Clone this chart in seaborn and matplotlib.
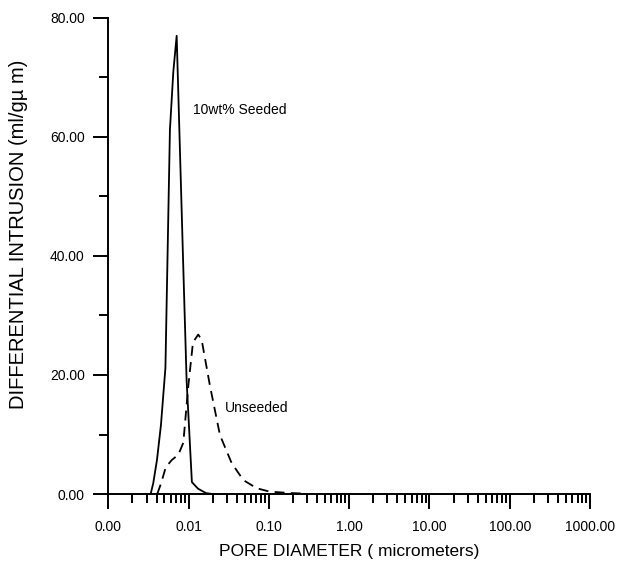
import numpy as np
import pandas as pd
import matplotlib
matplotlib.use("Agg")
import matplotlib.pyplot as plt
from matplotlib.ticker import LogLocator, FixedLocator, FixedFormatter, NullFormatter
import seaborn as sns

# Pore diameter (micrometers) and differential intrusion (ml/g·µm)
seeded_diam = [0.00337, 0.00363, 0.00404, 0.00453, 0.00515, 0.00586, 0.00646,
               0.00711, 0.0086, 0.00946, 0.0110, 0.0131, 0.0165, 0.0200]
seeded_intr = [0.0, 1.8, 5.7, 11.6, 21.2, 61.2, 71.0,
               77.0, 38.0, 19.0, 2.0, 0.9, 0.15, 0.0]

unseeded_diam = [0.00407, 0.00455, 0.0052, 0.00617, 0.00745, 0.0086, 0.0099,
                 0.01135, 0.0132, 0.01456, 0.01846, 0.0246, 0.0344, 0.048,
                 0.0705, 0.103, 0.183, 0.30]
unseeded_intr = [0.0, 1.8, 4.5, 5.7, 6.6, 8.6, 18.0,
                 25.5, 26.8, 25.9, 18.2, 9.9, 5.2, 2.35,
                 0.97, 0.39, 0.17, 0.05]

x_ticks = [0.001, 0.01, 0.1, 1, 10, 100, 1000]
x_tick_labels = ["0.00", "0.01", "0.10", "1.00", "10.00", "100.00", "1000.00"]
y_ticks = [0, 20, 40, 60, 80]
y_tick_labels = ["0.00", "20.00", "40.00", "60.00", "80.00"]
y_minor = [10, 30, 50, 70]

sns.set_style("ticks")
plt.rcParams["font.family"] = ["Liberation Sans", "DejaVu Sans"]
plt.rcParams["text.color"] = "black"
plt.rcParams["axes.labelcolor"] = "black"

fig = plt.figure(figsize=(6.18, 5.69), dpi=100)
ax = fig.add_axes([0.1752, 0.1318, 0.9547 - 0.1752, 0.9684 - 0.1318])

seeded = pd.DataFrame({"d": seeded_diam, "v": seeded_intr})
unseeded = pd.DataFrame({"d": unseeded_diam, "v": unseeded_intr})

sns.lineplot(data=seeded, x="d", y="v", ax=ax, color="black", linewidth=1.3,
             sort=False, estimator=None)
sns.lineplot(data=unseeded, x="d", y="v", ax=ax, color="black", linewidth=1.3,
             sort=False, estimator=None, linestyle=(0, (5.5, 3.5)))

ax.set_xscale("log")
ax.set_xlim(0.001, 1000)
ax.set_ylim(0, 80)

ax.xaxis.set_major_locator(FixedLocator(x_ticks))
ax.xaxis.set_major_formatter(FixedFormatter(x_tick_labels))
ax.xaxis.set_minor_locator(LogLocator(base=10, subs=np.arange(2, 10), numticks=20))
ax.xaxis.set_minor_formatter(NullFormatter())
ax.yaxis.set_major_locator(FixedLocator(y_ticks))
ax.yaxis.set_major_formatter(FixedFormatter(y_tick_labels))
ax.yaxis.set_minor_locator(FixedLocator(y_minor))

ax.tick_params(axis="both", which="major", length=11, width=1.4, labelsize=10,
               colors="black", direction="out")
ax.tick_params(axis="x", which="major", pad=8)
ax.tick_params(axis="y", which="major", pad=6)
ax.tick_params(axis="both", which="minor", length=6.5, width=1.4,
               colors="black", direction="out")

sns.despine(ax=ax)
for s in ("left", "bottom"):
    ax.spines[s].set_linewidth(1.4)
    ax.spines[s].set_color("black")

ax.set_xlabel("PORE DIAMETER ( micrometers)", fontsize=12.5, labelpad=7, color="black")
ax.set_ylabel("DIFFERENTIAL INTRUSION (ml/gµ m)", fontsize=14.5, color="black")
ax.yaxis.set_label_coords(-0.166, 0.545)

ax.text(0.0113, 64.5, "10wt% Seeded", fontsize=10, va="center", ha="left", color="black")
ax.text(0.0284, 14.5, "Unseeded", fontsize=10, va="center", ha="left", color="black")

fig.savefig("out.png", dpi=100)
